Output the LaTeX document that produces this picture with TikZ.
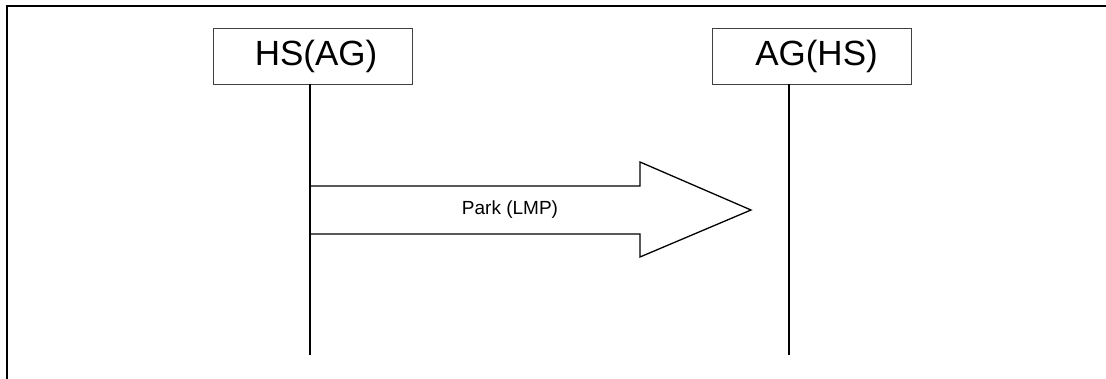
\documentclass[tikz,border=0pt]{standalone}
\usepackage{fontspec}
\setmainfont{Liberation Sans}
\begin{document}
\begin{tikzpicture}[x=1pt,y=-1pt,
  entity/.style={draw=black!75,line width=0.9pt,minimum width=199pt,minimum height=56pt,inner sep=0pt,font=\fontsize{35}{38}\selectfont},
  lifeline/.style={line width=2.2pt,black},
  frameline/.style={line width=2.4pt,black},
  msgarrow/.style={line width=1.3pt,black,line join=miter},
  msglabel/.style={font=\fontsize{19}{21}\selectfont}]
\useasboundingbox (0,0) rectangle (1106,379);
% frame
\coordinate (ftl) at (7,6);
\coordinate (ftr) at (1106,6);
\coordinate (fbl) at (7,379);
\draw[frameline] (fbl) -- (ftl) -- (ftr);
% entities
\node[entity] (hs) at (312.5,56) {\hspace*{7pt}HS(AG)};
\node[entity] (ag) at (812,56) {\hspace*{9pt}AG(HS)};
% lifelines
\coordinate (hsend) at (310,355);
\coordinate (agend) at (789,355);
\draw[lifeline] (hsend |- hs.south) -- (hsend);
\draw[lifeline] (agend |- ag.south) -- (agend);
% message arrow
\coordinate (s1) at (310,186);
\coordinate (s2) at (310,234);
\draw[msgarrow] (s1) -- (640,186) -- (640,162) -- (751,210) -- (640,257) -- (640,234) -- (s2);
\node[msglabel] (park) at (510,210) {Park (LMP)};
\end{tikzpicture}
\end{document}
